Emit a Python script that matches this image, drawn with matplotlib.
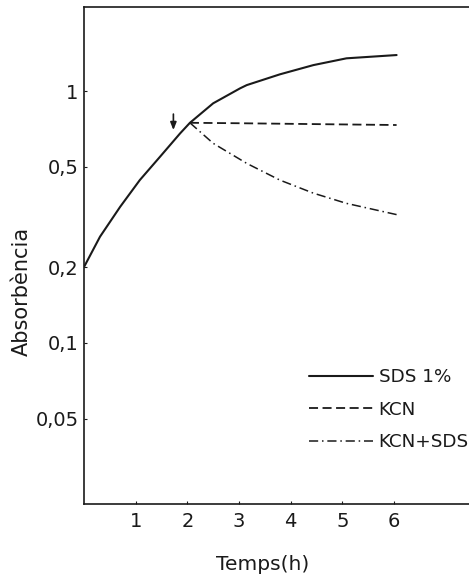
import matplotlib
matplotlib.use("Agg")
import matplotlib.pyplot as plt
from matplotlib.ticker import FixedLocator, FixedFormatter, NullLocator

# ---- data ----
sds_t = [0.0, 0.31, 0.70, 1.08, 1.47, 1.86, 2.05, 2.50, 3.02, 3.15, 3.79, 4.44, 5.08, 6.05]
sds_a = [0.200, 0.264, 0.347, 0.443, 0.548, 0.679, 0.748, 0.894, 1.025, 1.056, 1.165, 1.268, 1.349, 1.390]

kcn_t = [2.05, 3.0, 4.0, 5.0, 6.05]
kcn_a = [0.748, 0.745, 0.741, 0.737, 0.733]

kcnsds_t = [2.05, 2.50, 3.15, 3.79, 4.44, 5.08, 6.08]
kcnsds_a = [0.748, 0.620, 0.516, 0.443, 0.393, 0.358, 0.322]

arrow_t = 1.73
arrow_from = 0.81
arrow_to = 0.70

x_ticks = [1, 2, 3, 4, 5, 6]
y_ticks = [0.05, 0.1, 0.2, 0.5, 1]
y_tick_labels = ["0,05", "0,1", "0,2", "0,5", "1"]

labels = ["SDS 1%", "KCN", "KCN+SDS"]

plt.rcParams['font.family'] = ['DejaVu Sans']

fig = plt.figure(figsize=(4.69, 5.77), dpi=100)
W, H = 469, 577
left_px, top_px, bot_px = 84, 7, 504
x_unit = 51.67
xmax = 7.6
ax = fig.add_axes([left_px / W, 1 - bot_px / H, xmax * x_unit / W, (bot_px - top_px) / H])

col = "#1a1a1a"
ax.plot(sds_t, sds_a, color=col, lw=1.5, solid_capstyle='round', solid_joinstyle='round', label=labels[0])
ax.plot(kcn_t, kcn_a, color=col, lw=1.3, linestyle=(0, (5, 2.5)), label=labels[1])
ax.plot(kcnsds_t, kcnsds_a, color=col, lw=1.1, linestyle=(0, (6, 2.5, 1, 2.5)), label=labels[2])

ax.annotate("", xy=(arrow_t, arrow_to), xytext=(arrow_t, arrow_from),
            arrowprops=dict(arrowstyle="-|>,head_length=0.45,head_width=0.18", color=col, lw=1.2,
                            shrinkA=0, shrinkB=0))

ax.set_yscale('log')
ax.set_xlim(0, xmax)
ax.set_ylim(0.0229, 2.157)
ax.xaxis.set_major_locator(FixedLocator(x_ticks))
ax.yaxis.set_major_locator(FixedLocator(y_ticks))
ax.yaxis.set_major_formatter(FixedFormatter(y_tick_labels))
ax.yaxis.set_minor_locator(NullLocator())
ax.xaxis.set_minor_locator(NullLocator())
ax.tick_params(direction='in', length=2.5, width=0.8, labelsize=14, colors=col, pad=6)
ax.tick_params(axis='y', pad=4)
for s in ax.spines.values():
    s.set_linewidth(1.2)
    s.set_color(col)
ax.spines['right'].set_visible(False)

fig.text(263 / W, 1 - 564 / H, "Temps(h)", ha='center', va='center', fontsize=14.5, color=col)
fig.text(22 / W, 1 - 291 / H, "Absorbència", ha='center', va='center', rotation=90, fontsize=15, color=col)

leg = ax.legend(loc='upper left', bbox_to_anchor=(309 / W, 1 - 368 / H), bbox_transform=fig.transFigure,
                frameon=False, fontsize=13.2, handlelength=3.5, handletextpad=0.3,
                labelspacing=0.8, borderpad=0, borderaxespad=0)
for t in leg.get_texts():
    t.set_color(col)

fig.savefig("out.png", dpi=100)
